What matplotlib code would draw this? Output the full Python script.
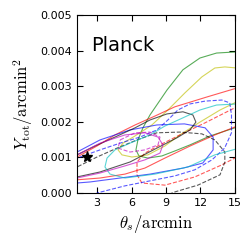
import matplotlib.pyplot as plt

plt.rcParams['mathtext.fontset'] = 'cm'

# 2-sigma contours in (theta_s [arcmin], Y_tot [arcmin^2])
green_solid = [(16.3, 0.00396), (15.0, 0.00396), (13.4, 0.00393), (11.95, 0.00379),
               (10.47, 0.00346), (9.08, 0.00289), (7.6, 0.00219), (6.99, 0.00183),
               (6.55, 0.00149), (6.38, 0.00121), (6.64, 0.00104), (7.42, 0.00098),
               (8.64, 0.00104), (9.77, 0.00118), (11.08, 0.00135), (12.82, 0.0016),
               (15.0, 0.00183), (16.3, 0.00194)]
yellow_solid = [(16.3, 0.00354), (15.16, 0.00351), (14.12, 0.00354), (13.25, 0.00351),
                (12.12, 0.00326), (10.64, 0.00281), (9.16, 0.00233), (7.77, 0.00191),
                (6.29, 0.0016), (5.25, 0.0014), (4.82, 0.00121), (5.16, 0.00107),
                (6.03, 0.00101), (7.42, 0.00107), (8.9, 0.00132), (10.2, 0.00163),
                (11.95, 0.00199), (13.7, 0.00233), (15.16, 0.00256), (16.3, 0.0027)]
red_solid = [(16.3, 0.00303), (15.2, 0.00295), (12.6, 0.0027), (9.77, 0.00242),
             (8.03, 0.00216), (6.3, 0.00191), (4.55, 0.00163), (2.99, 0.00132),
             (1.25, 0.00101), (-0.05, 0.0007), (1.25, 0.00037), (3.25, 0.00042),
             (5.42, 0.00053), (7.16, 0.0007), (8.9, 0.00098), (11.1, 0.00132),
             (13.25, 0.00163), (15.2, 0.00188), (16.3, 0.00202)]
red_dashed = [(16.3, 0.00256), (15.16, 0.00242), (12.4, 0.00197), (10.2, 0.00163),
              (8.47, 0.00135), (7.16, 0.00112), (6.47, 0.00087), (6.47, 0.00051),
              (6.9, 0.00028), (8.9, 0.00022), (11.5, 0.00045), (13.86, 0.00079),
              (15.16, 0.00101), (16.3, 0.00115)]
blue_solid = [(1.25, 0.00115), (3.25, 0.00149), (5.86, 0.00177), (8.2, 0.00191),
              (10.6, 0.00194), (12.4, 0.00183), (13.1, 0.00157), (13.1, 0.00121),
              (12.2, 0.00084), (10.5, 0.0007), (7.6, 0.00053), (5.0, 0.00042),
              (2.4, 0.00031), (1.25, 0.00028), (-0.05, 0.0007), (1.25, 0.00115)]
blue_dashed = [(2.38, -0.00034), (2.99, 0.0), (5.42, 0.0002), (7.6, 0.00034),
               (9.77, 0.00048), (11.5, 0.00065), (13.0, 0.00093), (14.1, 0.00126),
               (14.7, 0.00169), (14.7, 0.00219), (14.55, 0.00253), (13.86, 0.00261),
               (12.4, 0.00258), (11.08, 0.0025), (10.03, 0.00233), (9.16, 0.00205),
               (8.2, 0.00177), (6.73, 0.00157), (5.0, 0.0014), (3.25, 0.00121),
               (1.25, 0.00098), (-0.23, 0.00079), (-0.23, -0.00034), (2.38, -0.00034)]
black_solid = [(1.25, 0.00107), (2.82, 0.00132), (4.55, 0.00157), (6.3, 0.00183),
               (7.6, 0.00205), (9.08, 0.00222), (10.47, 0.00228), (11.34, 0.00219),
               (11.6, 0.00199), (11.08, 0.00177), (9.95, 0.00155), (8.2, 0.00126),
               (5.86, 0.00087), (3.25, 0.00059), (1.25, 0.00045), (-0.05, 0.0007),
               (1.25, 0.00107)]
black_dashed = [(-0.05, 0.00051), (1.25, 0.00073), (2.99, 0.00101), (4.73, 0.00126),
                (6.47, 0.00149), (8.2, 0.00169), (10.2, 0.00171), (12.12, 0.00166),
                (13.25, 0.00149), (14.12, 0.00115), (14.12, 0.00087), (13.7, 0.00051),
                (11.77, 0.00022), (9.77, 0.00003), (8.47, -0.00014), (-0.05, -0.00014),
                (-0.05, 0.00051)]
cyan_solid = [(16.3, 0.00253), (15.16, 0.0025), (13.4, 0.00247), (11.95, 0.00233),
              (10.47, 0.00211), (8.9, 0.00188), (7.6, 0.00163), (5.86, 0.0014),
              (4.55, 0.00121), (3.86, 0.00098), (3.68, 0.00073), (4.12, 0.00053),
              (5.42, 0.00042), (8.03, 0.00053), (10.9, 0.00073), (13.25, 0.00107),
              (15.16, 0.00124), (16.3, 0.00132)]
magenta_solid = [(-0.05, 0.00084), (1.25, 0.00107), (3.25, 0.0014), (5.42, 0.00163),
                 (7.16, 0.00169), (8.3, 0.00157), (8.73, 0.00135), (8.47, 0.00112),
                 (7.16, 0.00093), (5.42, 0.00076), (3.25, 0.00056), (1.25, 0.00042),
                 (-0.05, 0.00059)]
magenta_dashed = [(5.0, 0.00149), (6.3, 0.00169), (7.6, 0.00171), (8.47, 0.00157),
                  (8.3, 0.00135), (7.16, 0.00121), (5.86, 0.00115), (4.82, 0.00126),
                  (5.0, 0.00149)]

fiducial = (2.1, 0.001)

contours = [
    (green_solid, 'g', '-'), (yellow_solid, 'y', '-'),
    (red_solid, 'r', '-'), (red_dashed, 'r', '--'),
    (blue_solid, 'b', '-'), (blue_dashed, 'b', '--'),
    (black_solid, 'k', '-'), (black_dashed, 'k', '--'),
    (cyan_solid, 'c', '-'),
    (magenta_solid, 'm', '-'), (magenta_dashed, 'm', '--'),
]

fig = plt.figure(figsize=(2.51, 2.49), dpi=100)
ax = fig.add_axes([0.307, 0.225, 0.629, 0.715])

for pts, col, ls in contours:
    xs = [p[0] for p in pts]
    ys = [p[1] for p in pts]
    ax.plot(xs, ys, color=col, ls=ls, lw=0.8, alpha=0.65)

ax.plot(*fiducial, marker='*', color='k', ms=8)

ax.text(0.09, 0.83, 'Planck', transform=ax.transAxes, fontsize=14, va='center')

ax.set_xlim(1.25, 15)
ax.set_ylim(0, 0.005)
ax.set_xticks([3, 6, 9, 12, 15])
ax.set_yticks([0, 0.001, 0.002, 0.003, 0.004, 0.005])
ax.set_yticklabels(['0.000', '0.001', '0.002', '0.003', '0.004', '0.005'])
ax.tick_params(direction='in', top=True, right=True, labelsize=8, length=4)
ax.set_xlabel(r'$\theta_s/{\rm arcmin}$', fontsize=12)
ax.set_ylabel(r'$Y_{\rm tot}/{\rm arcmin}^2$', fontsize=12)

fig.savefig('out.png', dpi=100)
